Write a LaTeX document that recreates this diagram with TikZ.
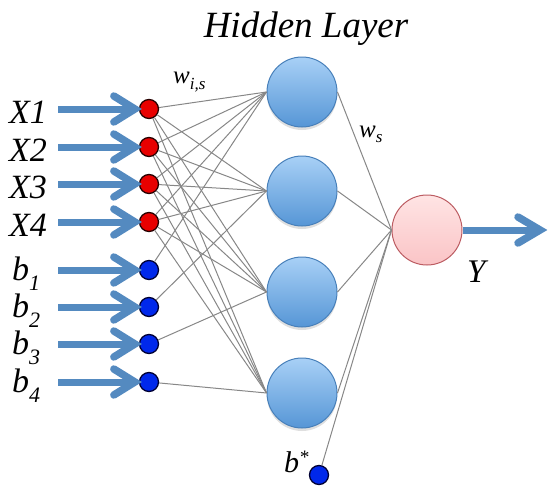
\documentclass[tikz,border=0pt]{standalone}
\usepackage{fontspec}
\setmainfont{Liberation Serif}[ItalicFont={Liberation Serif Italic}]
\usetikzlibrary{shadows}
\definecolor{arrowblue}{RGB}{84,138,192}
\definecolor{wiregray}{RGB}{135,135,135}
\definecolor{redfill}{RGB}{232,0,0}
\definecolor{bluefill}{RGB}{0,40,235}
\definecolor{hidtop}{RGB}{168,208,246}
\definecolor{hidbot}{RGB}{86,150,214}
\definecolor{hiddraw}{RGB}{72,128,186}
\definecolor{outtop}{RGB}{255,228,228}
\definecolor{outbot}{RGB}{250,196,198}
\definecolor{outdraw}{RGB}{188,92,98}
\tikzset{
  inred/.style={circle, draw=black!85!red, line width=1.3pt, fill=redfill, minimum size=19pt, inner sep=0pt},
  inblue/.style={circle, draw=black!80!blue, line width=1.3pt, fill=bluefill, minimum size=19pt, inner sep=0pt},
  hid/.style={circle, draw=hiddraw, line width=1pt, top color=hidtop, bottom color=hidbot, minimum size=70pt, inner sep=0pt,
     drop shadow={shadow xshift=0pt, shadow yshift=-3pt, opacity=0.25}},
  outn/.style={circle, draw=outdraw, line width=1pt, top color=outtop, bottom color=outbot, minimum size=70pt, inner sep=0pt},
  wire/.style={draw=wiregray, line width=1pt},
  fat/.style={draw=arrowblue, line width=7pt},
  chev/.style={draw=arrowblue, line width=7.5pt, line cap=round, line join=miter},
  lab/.style={inner sep=0pt},
}
\begin{document}
\begin{tikzpicture}[x=1pt,y=-1pt]
\useasboundingbox (0,0) rectangle (550,498);
% input nodes
\node[inred] (r1) at (149,109) {};
\node[inred] (r2) at (149,147) {};
\node[inred] (r3) at (149,184) {};
\node[inred] (r4) at (149,222) {};
\node[inblue] (b1) at (149,270) {};
\node[inblue] (b2) at (149,307) {};
\node[inblue] (b3) at (149,344) {};
\node[inblue] (b4) at (149,382) {};
% hidden nodes
\node[hid] (h1) at (302,92) {};
\node[hid] (h2) at (302,191) {};
\node[hid] (h3) at (302,292) {};
\node[hid] (h4) at (302,393) {};
% output
\node[outn] (o) at (427,230) {};
\node[inblue] (bs) at (319,475) {};
% wires
\foreach \i in {r1,r2,r3,r4}
  \foreach \j in {h1,h2,h3,h4}
    \draw[wire] (\i) -- (\j.west);
\draw[wire] (b1) -- (h1.west);
\draw[wire] (b2) -- (h2.west);
\draw[wire] (b3) -- (h3.west);
\draw[wire] (b4) -- (h4.west);
\foreach \j in {h1,h2,h3,h4}
  \draw[wire] (\j.east) -- (o.west);
\draw[wire] (bs) -- (o.west);
% input arrows
\foreach \n/\yy in {r1/109,r2/147,r3/184,r4/222,b1/270,b2/307,b3/344,b4/382}{
  \coordinate (a-\n) at (58,\yy);
  \draw[fat] (a-\n) -- ([xshift=-8pt]\n.west);
  \draw[chev] ([xshift=-25pt,yshift=13pt]\n.west) -- ([xshift=-4pt]\n.west) -- ([xshift=-25pt,yshift=-13pt]\n.west);
}
% output arrow
\coordinate (yend) at (540,230);
\draw[fat] (o.east) -- ([xshift=-5pt]yend);
\draw[chev] ([xshift=-22pt,yshift=13pt]yend) -- (yend) -- ([xshift=-22pt,yshift=-13pt]yend);
% labels
\node[lab, anchor=base west] (lx1) at (9,123) {\itshape\fontsize{34}{34}\selectfont X1};
\node[lab, anchor=base west] (lx2) at (9,161) {\itshape\fontsize{34}{34}\selectfont X2};
\node[lab, anchor=base west] (lx3) at (9,198) {\itshape\fontsize{34}{34}\selectfont X3};
\node[lab, anchor=base west] (lx4) at (9,236) {\itshape\fontsize{34}{34}\selectfont X4};
\foreach \k/\yy in {1/280,2/317,3/354,4/392}{
  \node[lab, anchor=base west] (lb\k) at (12,\yy) {\itshape\fontsize{34}{34}\selectfont b\raisebox{-10pt}{\fontsize{22}{22}\selectfont \k}};
}
\node[lab, anchor=base west] (lbs) at (284,472) {\itshape\fontsize{30}{30}\selectfont b\raisebox{9pt}{\fontsize{19}{19}\selectfont *}};
\node[lab, anchor=base west] (lw) at (173,83) {\itshape\fontsize{25}{25}\selectfont w\raisebox{-6pt}{\fontsize{17}{17}\selectfont i,s}};
\node[lab, anchor=base west] (lws) at (359,137) {\itshape\fontsize{25}{25}\selectfont w\raisebox{-5pt}{\fontsize{17}{17}\selectfont s}};
\node[lab, anchor=base west] (ly) at (467,282) {\itshape\fontsize{33}{33}\selectfont Y};
\node[lab, anchor=base] (title) at (306,37) {\itshape\fontsize{37}{37}\selectfont Hidden Layer};
\end{tikzpicture}
\end{document}
